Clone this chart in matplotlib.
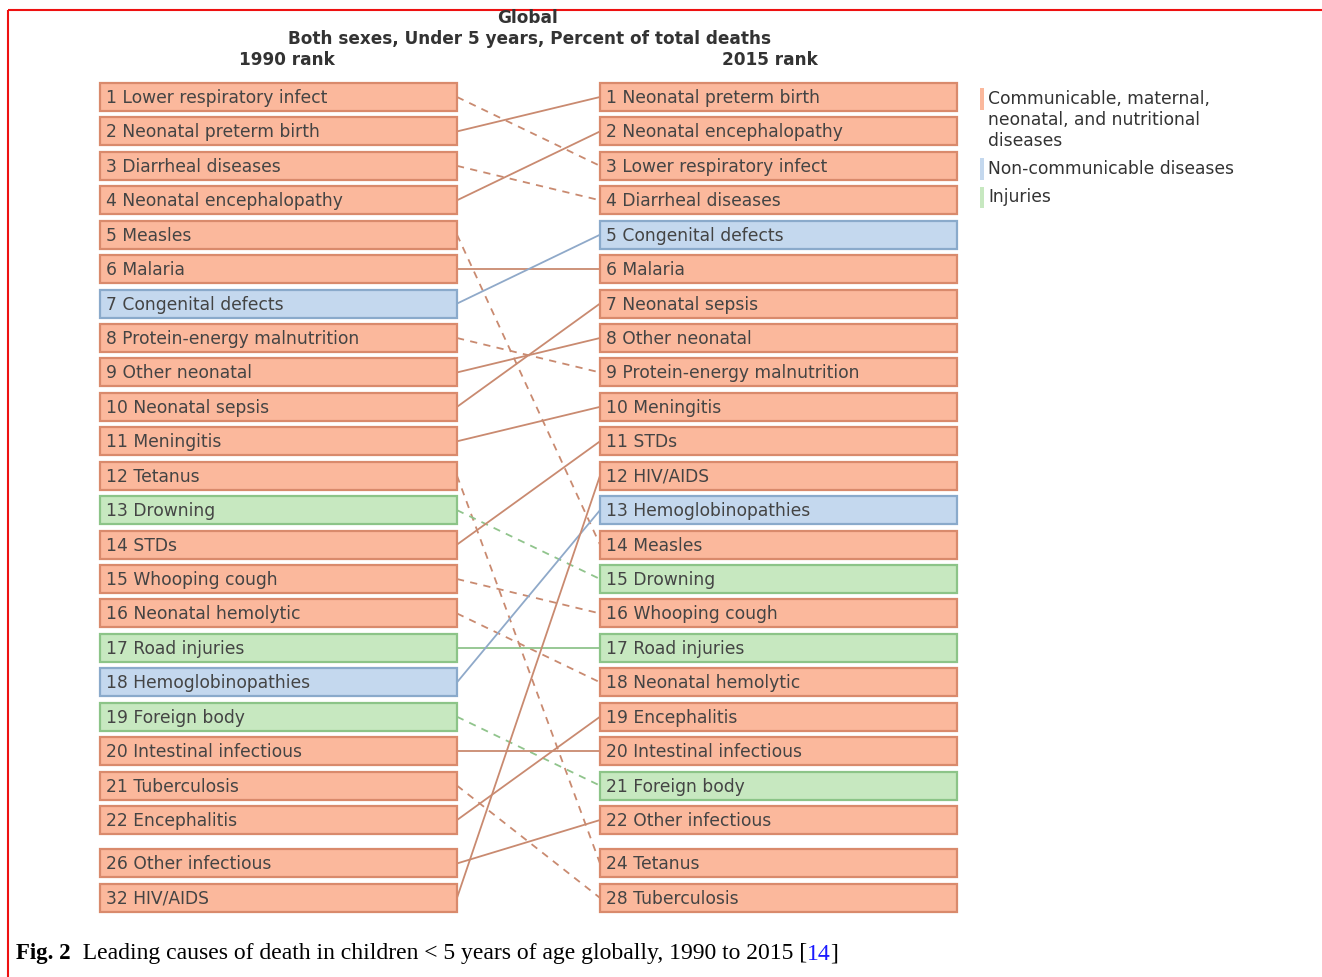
import matplotlib
matplotlib.use("Agg")
import matplotlib.pyplot as plt
from matplotlib.patches import Rectangle

# ---------------- data ----------------
left_ranks = [1, 2, 3, 4, 5, 6, 7, 8, 9, 10, 11, 12, 13, 14, 15, 16, 17, 18, 19, 20, 21, 22, 26, 32]
left_names = ["Lower respiratory infect", "Neonatal preterm birth", "Diarrheal diseases",
              "Neonatal encephalopathy", "Measles", "Malaria", "Congenital defects",
              "Protein-energy malnutrition", "Other neonatal", "Neonatal sepsis", "Meningitis",
              "Tetanus", "Drowning", "STDs", "Whooping cough", "Neonatal hemolytic",
              "Road injuries", "Hemoglobinopathies", "Foreign body", "Intestinal infectious",
              "Tuberculosis", "Encephalitis", "Other infectious", "HIV/AIDS"]
right_ranks = [1, 2, 3, 4, 5, 6, 7, 8, 9, 10, 11, 12, 13, 14, 15, 16, 17, 18, 19, 20, 21, 22, 24, 28]
right_names = ["Neonatal preterm birth", "Neonatal encephalopathy", "Lower respiratory infect",
               "Diarrheal diseases", "Congenital defects", "Malaria", "Neonatal sepsis",
               "Other neonatal", "Protein-energy malnutrition", "Meningitis", "STDs", "HIV/AIDS",
               "Hemoglobinopathies", "Measles", "Drowning", "Whooping cough", "Road injuries",
               "Neonatal hemolytic", "Encephalitis", "Intestinal infectious", "Foreign body",
               "Other infectious", "Tetanus", "Tuberculosis"]
ncd = ["Congenital defects", "Hemoglobinopathies"]
injuries = ["Drowning", "Road injuries", "Foreign body"]

legend_labels = ["Communicable, maternal,\nneonatal, and nutritional\ndiseases",
                 "Non-communicable diseases", "Injuries"]

# ---------------- styles ----------------
fill = {"cmnn": "#fbb89c", "ncd": "#c4d8ee", "inj": "#c7e8c0"}
edge = {"cmnn": "#d98a6c", "ncd": "#8aaacb", "inj": "#8cc488"}
linec = {"cmnn": "#c98a70", "ncd": "#8fa9c9", "inj": "#90c48c"}
txtc = "#444444"
FS = 12.3

def cat(name):
    if name in ncd:
        return "ncd"
    if name in injuries:
        return "inj"
    return "cmnn"

fig = plt.figure(figsize=(13.22, 9.77), dpi=100)
ax = fig.add_axes([0, 0, 1, 1])
ax.set_xlim(0, 1322)
ax.set_ylim(977, 0)
ax.axis("off")

Y0, STEP, GAP, BH = 97, 34.43, 9, 28
LX0, LX1 = 100, 457
RX0, RX1 = 600, 957

def slot_y(i):
    return Y0 + i * STEP + (GAP if i >= 22 else 0)

def draw_box(x0, x1, y, label, c):
    ax.add_patch(Rectangle((x0, y - BH / 2), x1 - x0, BH, facecolor=fill[c],
                           edgecolor=edge[c], linewidth=1.6, zorder=2))
    ax.text(x0 + 6, y + 1, label, fontsize=FS, color=txtc, va="center", ha="left",
            family="DejaVu Sans", zorder=3)

left_pos = {}
for i, (r, n) in enumerate(zip(left_ranks, left_names)):
    y = slot_y(i)
    left_pos[n] = (y, r)
    draw_box(LX0, LX1, y, f"{r} {n}", cat(n))

right_pos = {}
for i, (r, n) in enumerate(zip(right_ranks, right_names)):
    y = slot_y(i)
    right_pos[n] = (y, r)
    draw_box(RX0, RX1, y, f"{r} {n}", cat(n))

for n, (yl, rl) in left_pos.items():
    yr, rr = right_pos[n]
    ls = (0, (4, 3.5)) if rr > rl else "-"
    ax.plot([LX1, RX0], [yl, yr], color=linec[cat(n)], linewidth=1.3, linestyle=ls, zorder=1)

# titles
TFS = 12.2
ax.text(528, 18, "Global", fontsize=TFS, fontweight="bold", color="#333333", ha="center", va="center")
ax.text(529, 39, "Both sexes, Under 5 years, Percent of total deaths", fontsize=TFS,
        fontweight="bold", color="#333333", ha="center", va="center")
ax.text(287, 60, "1990 rank", fontsize=TFS, fontweight="bold", color="#333333", ha="center", va="center")
ax.text(770, 60, "2015 rank", fontsize=TFS, fontweight="bold", color="#333333", ha="center", va="center")

# legend
leg_y = [88, 158, 187]
leg_h = [22, 22, 21]
for c, y, h in zip(["cmnn", "ncd", "inj"], leg_y, leg_h):
    ax.add_patch(Rectangle((980, y), 4, h, facecolor=fill[c], edgecolor="none"))
ax.text(988, 90, legend_labels[0], fontsize=FS, color="#333333", ha="left", va="top",
        linespacing=1.2)
ax.text(988, 169, legend_labels[1], fontsize=FS, color="#333333", ha="left", va="center")
ax.text(988, 197, legend_labels[2], fontsize=FS, color="#333333", ha="left", va="center")

# caption
CFS = 17
fig.canvas.draw()
r = fig.canvas.get_renderer()
parts = [("Fig. 2", "bold", "black", 16.5),
         ("  Leading causes of death in children < 5 years of age globally, 1990 to 2015 [", "normal", "black", CFS),
         ("14", "normal", "#1a1aff", CFS), ("]", "normal", "black", CFS)]
x = 16
inv = ax.transData.inverted()
for s, w, col, fs in parts:
    t = ax.text(x, 954, s, fontsize=fs, fontweight=w, family="Liberation Serif",
                ha="left", va="center", color=col)
    bb = t.get_window_extent(renderer=r)
    x = inv.transform((bb.x1, bb.y0))[0]

# red frame
ax.plot([8, 1322], [10, 10], color="#ee1111", linewidth=1.5, solid_capstyle="butt")
ax.plot([8, 8], [10, 977], color="#ee1111", linewidth=1.5, solid_capstyle="butt")

fig.savefig("out.png", dpi=100)
